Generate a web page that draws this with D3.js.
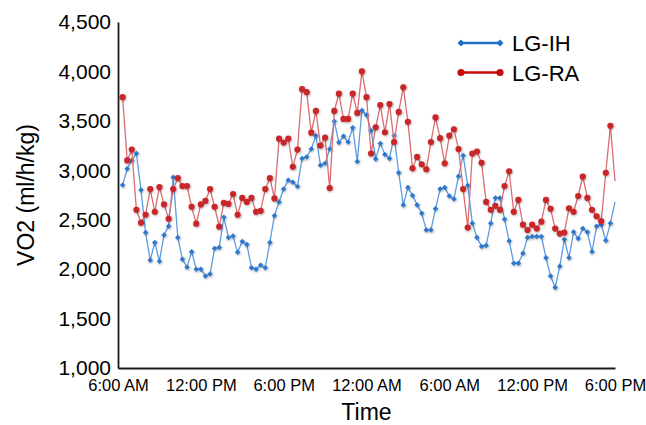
<!DOCTYPE html>
<html>
<head>
<meta charset="utf-8">
<script src="https://cdn.jsdelivr.net/npm/d3@7"></script>
<style>
body { margin: 0; background: #fff; }
text { font-family: "Liberation Sans", Arial, Helvetica, sans-serif; fill: #000; }
</style>
</head>
<body>
<div id="chart"></div>
<script>

// VO2 readings every 20 minutes, first one at 6:20 AM
var seriesNames = ["LG-IH", "LG-RA"];

var ihValues = [2850, 3015, 3100, 3170, 2800, 2370, 2090, 2270, 2080, 2345,
	2435, 2930, 2320, 2100, 2020, 2175, 2000, 2000, 1930, 1950,
	2210, 2220, 2525, 2320, 2335, 2170, 2280, 2250, 2015, 2000,
	2040, 2015, 2270, 2540, 2680, 2810, 2900, 2880, 2835, 3120,
	3135, 3215, 3350, 3050, 3070, 3215, 3495, 3280, 3345, 3285,
	3430, 3090, 3605, 3560, 3400, 3115, 3270, 3160, 3120, 3350,
	2975, 2650, 2825, 2745, 2650, 2565, 2395, 2395, 2610, 2810,
	2825, 2740, 2710, 2940, 3150, 2845, 2465, 2320, 2230, 2240,
	2465, 2720, 2720, 2505, 2285, 2060, 2060, 2160, 2320, 2330,
	2330, 2330, 2115, 1930, 1815, 2030, 2300, 2115, 2375, 2310,
	2410, 2375, 2175, 2435, 2450, 2290, 2465, 2680];

var raValues = [3740, 3100, 3210, 2600, 2470, 2550, 2810, 2580, 2830, 2655,
	2510, 2810, 2920, 2840, 2840, 2630, 2460, 2655, 2690, 2810,
	2630, 2430, 2670, 2660, 2760, 2550, 2720, 2680, 2720, 2580,
	2590, 2810, 2920, 2715, 3320, 3280, 3320, 3035, 3210, 3820,
	3790, 3380, 3600, 3250, 3330, 2820, 3600, 3775, 3520, 3520,
	3775, 3580, 4000, 3740, 3170, 3435, 3660, 3385, 3670, 3285,
	3590, 3840, 3490, 3020, 3135, 3060, 3010, 3285, 3535, 3325,
	3070, 3350, 3415, 3215, 2810, 2420, 3170, 3190, 3075, 2680,
	2600, 2640, 2600, 2840, 2990, 2580, 2700, 2450, 2395, 2450,
	2410, 2480, 2700, 2610, 2410, 2360, 2370, 2615, 2580, 2740,
	2935, 2720, 2600, 2535, 2485, 2975, 3450, 2890];

var yTicks = [1000, 1500, 2000, 2500, 3000, 3500, 4000, 4500];
var xTickLabels = ["6:00 AM", "12:00 PM", "6:00 PM", "12:00 AM", "6:00 AM", "12:00 PM", "6:00 PM"];

var axisStart = new Date(2015, 0, 1, 6, 0);
var axisEnd = new Date(2015, 0, 2, 18, 0);
var stepMinutes = 20;


VO2Vis = function(_parentElement, _ih, _ra){
	this.parentElement = _parentElement;
	this.ih = _ih;
	this.ra = _ra;

	this.initVis();
}

VO2Vis.prototype.initVis = function(){
	var vis = this;

	vis.margin = { top: 22, right: 31, bottom: 57, left: 118 };

	vis.width = 646 - vis.margin.left - vis.margin.right,
	vis.height = 425 - vis.margin.top - vis.margin.bottom;

	vis.svg = d3.select("#" + vis.parentElement).append("svg")
		.attr("width", vis.width + vis.margin.left + vis.margin.right)
		.attr("height", vis.height + vis.margin.top + vis.margin.bottom);

	var defs = vis.svg.append("defs");
	defs.append("filter")
		.attr("id", "soft")
		.attr("x", "-50%").attr("y", "-50%")
		.attr("width", "200%").attr("height", "200%")
		.append("feDropShadow")
		.attr("dx", 0.7).attr("dy", 0.9)
		.attr("stdDeviation", 0.8)
		.attr("flood-opacity", 0.35);

	vis.g = vis.svg.append("g")
		.attr("transform", "translate(" + vis.margin.left + "," + vis.margin.top + ")");

	vis.x = d3.scaleTime()
		.domain([axisStart, axisEnd])
		.range([0, vis.width]);

	vis.y = d3.scaleLinear()
		.domain([1000, 4500])
		.range([vis.height, 0]);

	// turn the value arrays into time/value pairs
	function toPoints(values){
		return values.map(function(v, i){
			return { time: new Date(axisStart.getTime() + (i + 1) * stepMinutes * 60000), value: v };
		});
	}
	vis.ihData = toPoints(vis.ih);
	vis.raData = toPoints(vis.ra);

	var line = d3.line()
		.x(function(d){ return vis.x(d.time) })
		.y(function(d){ return vis.y(d.value) });

	// no marker on the point sitting on the axis end
	function inside(d){ return d.time < axisEnd }

	// LG-IH (blue diamonds)
	vis.g.append("path")
		.datum(vis.ihData)
		.attr("d", line)
		.attr("fill", "none")
		.attr("stroke", "#5b9be0")
		.attr("stroke-width", 1.3);

	var diamond = d3.symbol().type(d3.symbolSquare).size(15);

	vis.g.append("g")
		.attr("filter", "url(#soft)")
		.selectAll("path")
		.data(vis.ihData.filter(inside))
		.enter()
		.append("path")
		.attr("d", diamond)
		.attr("transform", function(d){
			return "translate(" + vis.x(d.time) + "," + vis.y(d.value) + ") rotate(45)";
		})
		.attr("fill", "#2f78cc");

	// LG-RA (red circles)
	vis.g.append("path")
		.datum(vis.raData)
		.attr("d", line)
		.attr("fill", "none")
		.attr("stroke", "#da6d71")
		.attr("stroke-width", 1.3);

	vis.g.append("g")
		.attr("filter", "url(#soft)")
		.selectAll("circle")
		.data(vis.raData.filter(inside))
		.enter()
		.append("circle")
		.attr("cx", function(d){ return vis.x(d.time) })
		.attr("cy", function(d){ return vis.y(d.value) })
		.attr("r", 3.1)
		.attr("fill", "#c9282c");

	// axes
	var yAxis = d3.axisLeft(vis.y)
		.tickValues(yTicks)
		.tickSize(0)
		.tickSizeOuter(0)
		.tickPadding(7)
		.tickFormat(d3.format(","));

	var tickTimes = xTickLabels.map(function(d, i){
		return new Date(axisStart.getTime() + i * 6 * 3600000);
	});

	var xAxis = d3.axisBottom(vis.x)
		.tickValues(tickTimes)
		.tickSize(0)
		.tickSizeOuter(0)
		.tickPadding(11)
		.tickFormat(function(d, i){ return xTickLabels[i] });

	var yG = vis.g.append("g").call(yAxis);
	yG.selectAll("text")
		.style("font-size", "21px")
		.attr("font-family", null);

	var xG = vis.g.append("g")
		.attr("transform", "translate(0," + vis.height + ")")
		.call(xAxis);
	xG.selectAll("text")
		.style("font-size", "16.5px")
		.attr("font-family", null);

	vis.svg.selectAll(".domain")
		.attr("stroke", "#1a1a1a")
		.attr("stroke-width", 1.8);

	// axis titles
	vis.svg.append("text")
		.text("Time")
		.attr("x", vis.margin.left + vis.width / 2)
		.attr("y", 420)
		.attr("text-anchor", "middle")
		.style("font-size", "23px");

	vis.svg.append("text")
		.text("VO2 (ml/h/kg)")
		.attr("transform", "translate(34," + (vis.margin.top + vis.height / 2) + ") rotate(-90)")
		.attr("text-anchor", "middle")
		.style("font-size", "23px");

	// legend
	var legend = vis.svg.append("g").attr("class", "legend");
	var legendColors = ["#1f6fc6", "#c40a0a"];
	var legendY = [43, 72.5];

	seriesNames.forEach(function(name, i){
		var row = legend.append("g").attr("transform", "translate(0," + legendY[i] + ")");
		row.append("line")
			.attr("x1", 461).attr("x2", 500)
			.attr("stroke", legendColors[i])
			.attr("stroke-width", 2.6);
		[461, 500].forEach(function(px){
			if (i == 0) {
				row.append("path")
					.attr("d", d3.symbol().type(d3.symbolSquare).size(24))
					.attr("transform", "translate(" + px + ",0) rotate(45)")
					.attr("fill", legendColors[i]);
			} else {
				row.append("circle")
					.attr("cx", px)
					.attr("r", 3.6)
					.attr("fill", legendColors[i]);
			}
		});
		row.append("text")
			.text(name)
			.attr("x", 512)
			.attr("y", 8.3)
			.style("font-size", "22px");
	});
}

new VO2Vis("chart", ihValues, raValues);

</script>
</body>
</html>
